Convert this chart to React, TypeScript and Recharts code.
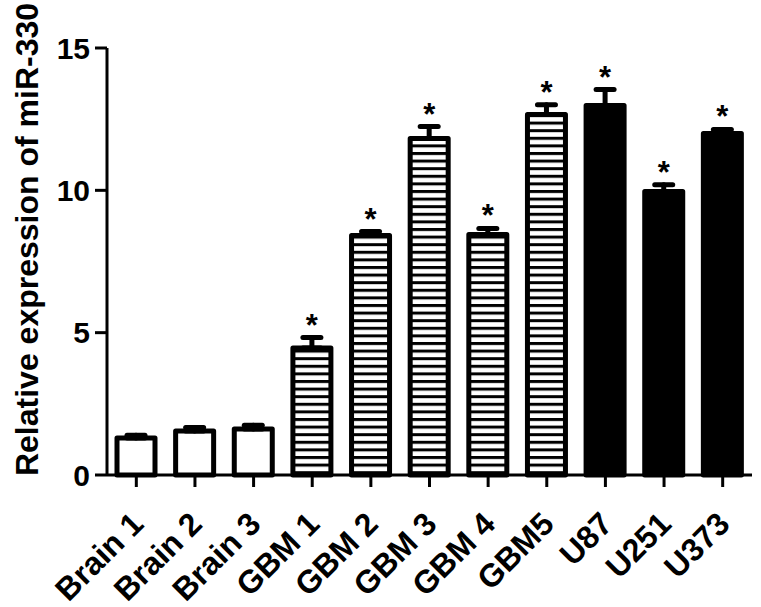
import React from 'react';
import { BarChart, Bar, XAxis, YAxis, ErrorBar, Cell, LabelList } from 'recharts';

const categories = ['Brain 1', 'Brain 2', 'Brain 3', 'GBM 1', 'GBM 2', 'GBM 3', 'GBM 4', 'GBM5', 'U87', 'U251', 'U373'];
const means = [1.3, 1.55, 1.62, 4.46, 8.41, 11.82, 8.45, 12.66, 12.98, 9.96, 12.0];
const errs = [0.1, 0.12, 0.13, 0.37, 0.14, 0.42, 0.21, 0.35, 0.56, 0.24, 0.14];
const groups = ['brain', 'brain', 'brain', 'gbm', 'gbm', 'gbm', 'gbm', 'gbm', 'cell', 'cell', 'cell'];
const significant = [false, false, false, true, true, true, true, true, true, true, true];
const yTicks = [0, 5, 10, 15];

const data = categories.map((name, i) => ({
  name,
  mean: means[i],
  err: errs[i],
  errRange: [0, errs[i]],
  group: groups[i],
  sig: significant[i],
}));

const fillFor = (g: string) => (g === 'brain' ? '#ffffff' : g === 'gbm' ? 'url(#hatch)' : '#000000');

const FONT = '"Liberation Sans", Arial, sans-serif';

const XTick = (props: any) => {
  const { x, y, payload } = props;
  const ax = x + 9;
  const ay = y + 37;
  return (
    <text
      x={ax}
      y={ay}
      textAnchor="end"
      transform={`rotate(-45, ${ax}, ${ay})`}
      fontFamily={FONT}
      fontWeight="bold"
      fontSize={32}
      fill="#000"
    >
      {payload.value}
    </text>
  );
};

const StarLabel = (props: any) => {
  const vb = props.viewBox || props;
  const { x, y, width, height } = vb;
  const index = props.index;
  if (index == null || !data[index] || !data[index].sig) return null;
  const d = data[index];
  const pxPerUnit = height / d.mean;
  const cy = y - d.err * pxPerUnit - 2;
  return (
    <text x={x + width / 2} y={cy} textAnchor="middle" fontFamily={FONT} fontWeight="bold" fontSize={31} fill="#000">
      *
    </text>
  );
};

const YTitle = (props: any) => {
  const vb = props.viewBox;
  const cx = 38;
  const cy = vb.y + vb.height / 2 - 22;
  return (
    <text
      x={cx}
      y={cy}
      textAnchor="middle"
      transform={`rotate(-90, ${cx}, ${cy})`}
      fontFamily={FONT}
      fontWeight="bold"
      fontSize={32}
      fill="#000"
    >
      Relative expression of miR-330
    </text>
  );
};

export default function App() {
  return (
    <div style={{ position: 'absolute', left: 0, top: 0, width: 761, height: 607, background: '#fff' }}>
      <svg width={0} height={0} style={{ position: 'absolute' }}>
        <defs>
          <pattern id="hatch" patternUnits="userSpaceOnUse" width={10} height={7.6}>
            <rect x={0} y={0} width={10} height={7.6} fill="#fff" />
            <rect x={0} y={0} width={10} height={3} fill="#000" />
          </pattern>
        </defs>
      </svg>
      <BarChart
        width={761}
        height={607}
        data={data}
        margin={{ top: 48, right: 9, bottom: 0, left: 0 }}
        barSize={38}
      >
        <XAxis
          dataKey="name"
          height={132}
          interval={0}
          tick={<XTick />}
          tickSize={12}
          axisLine={{ stroke: '#000', strokeWidth: 3 }}
          tickLine={{ stroke: '#000', strokeWidth: 3 }}
        />
        <YAxis
          width={107}
          domain={[0, 15]}
          ticks={yTicks}
          tickSize={12}
          tickMargin={5}
          axisLine={{ stroke: '#000', strokeWidth: 3 }}
          tickLine={{ stroke: '#000', strokeWidth: 3 }}
          tick={{ fill: '#000', fontFamily: FONT, fontWeight: 'bold', fontSize: 30 }}
          label={<YTitle />}
        />
        <Bar dataKey="mean" isAnimationActive={false} stroke="#000" strokeWidth={5} strokeLinejoin="round">
          {data.map((d, i) => (
            <Cell key={i} fill={fillFor(d.group)} />
          ))}
          <ErrorBar
            dataKey="errRange"
            direction="y"
            width={9}
            stroke="#000"
            strokeWidth={5}
            strokeLinecap="round"
            isAnimationActive={false}
          />
          <LabelList dataKey="err" content={<StarLabel />} />
        </Bar>
      </BarChart>
    </div>
  );
}
